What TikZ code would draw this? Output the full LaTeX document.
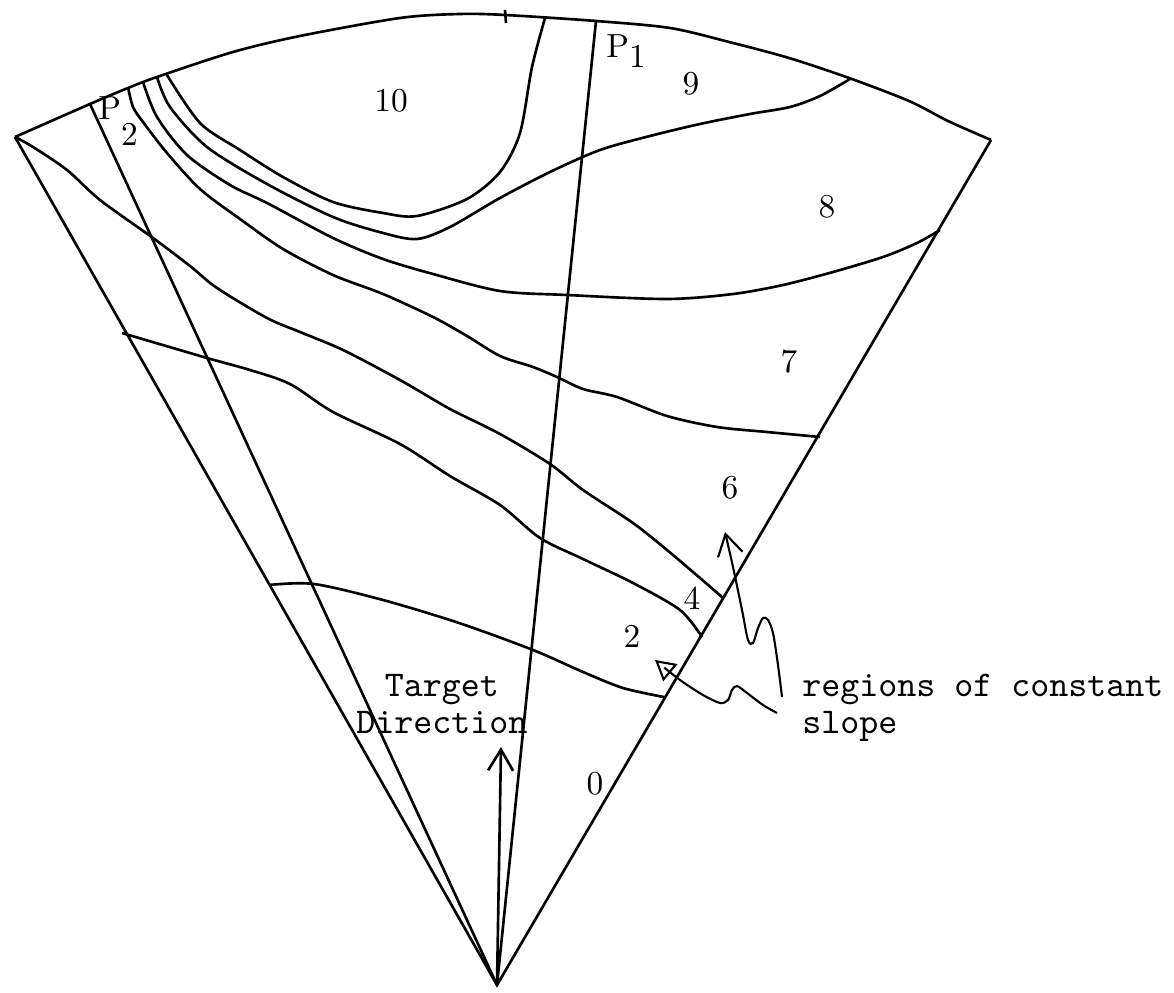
\documentclass[tikz,border=0pt]{standalone}
\usepackage{fontspec}
\usetikzlibrary{arrows.meta}

\begin{document}
\begin{tikzpicture}[x=0.1mm,y=-0.1mm,line width=0.75pt,
    contour/.style={line width=0.75pt},
    digit/.style={font=\fontsize{9.5}{11}\selectfont, inner sep=0pt},
    typed/.style={font=\fontsize{10.3}{10.5}\selectfont\ttfamily, inner sep=0pt},
    pointer/.style={line width=0.6pt, -{Straight Barb[length=2.1mm,width=2.5mm]}},
    pointerb/.style={line width=0.6pt, -{Triangle[open,length=2mm,width=2.2mm]}}]
  \useasboundingbox (0,0) rectangle (1174,993);
  % fan
  \coordinate (O) at (497,985);
  \coordinate (L) at (15,137);
  \coordinate (R) at (991,140);
  \coordinate (P1top) at (596,21);
  \coordinate (P2top) at (90,104);
  \draw (L) -- (O) -- (R);
  \draw (P2top) -- (O);
  \draw (P1top) -- (O);
  \draw plot[smooth] coordinates {(L) (90,104) (128,88) (157,77) (233,52)
    (300,36) (400,18) (460,14) (505,15) (596,21) (670,28) (729,42) (789,58)
    (849,78) (909,101) (948,121) (R)};
  \draw (505,10) -- (506,23);
  % contours
  \draw[contour] plot[smooth] coordinates {(167,75) (200,123) (240,150)
    (283,177) (333,202) (383,213) (417,216) (467,199) (500,172) (520,133)
    (532,67) (545,18)};
  \draw[contour] plot[smooth] coordinates {(157,77) (170,107) (207,147)
    (267,184) (333,217) (383,233) (417,239) (450,227) (500,198) (550,172)
    (600,150) (650,136) (700,124) (750,114) (790,107) (820,96) (850,79)};
  \draw[contour] plot[smooth] coordinates {(143,82) (157,117) (187,155)
    (230,185) (267,203) (333,238) (383,259) (433,274) (500,291) (567,295)
    (667,299) (733,294) (783,285) (833,272) (883,257) (917,243) (940,230)};
  \draw[contour] plot[smooth] coordinates {(128,87) (133,107) (143,122)
    (167,153) (200,189) (240,219) (283,249) (333,275) (383,294) (433,317)
    (467,336) (500,356) (533,367) (557,377) (583,389) (617,397) (667,416)
    (717,427) (767,432) (820,437)};
  \draw[contour] plot[smooth] coordinates {(L) (33,147) (67,170) (100,200)
    (153,238) (190,266) (217,288) (267,318) (300,332) (343,350) (400,380)
    (450,409) (500,434) (550,464) (583,490) (633,523) (667,550) (700,578)
    (723,598)};
  \draw[contour] plot[smooth] coordinates {(122,333) (207,358) (250,370)
    (290,384) (333,412) (400,444) (450,476) (500,505) (540,538) (583,559)
    (633,583) (680,610) (702,637)};
  \draw[contour] plot[smooth] coordinates {(269,585) (314,584) (383,600)
    (459,623) (533,650) (583,672) (623,688) (664,697)};
  % target direction
  \coordinate (tgt) at (501,747);
  \draw[pointer, line width=0.75pt] (O) -- (tgt);
  % labels
  \node[digit] (n10) at (391,101) {10};
  \node[digit] (n9) at (691,84) {9};
  \node[digit] (n8) at (827,207) {8};
  \node[digit] (n7) at (789,362) {7};
  \node[digit] (n6) at (730,488) {6};
  \node[digit] (n4) at (692,598) {4};
  \node[digit] (n2) at (632,636) {2};
  \node[digit] (n0) at (595,784) {0};
  \node[digit, anchor=base west] (p1) at (605,58) {P\raisebox{-1mm}{1}};
  \node[digit, anchor=base west] (p2) at (97,120) {P\raisebox{-2.6mm}{2}};
  \node[typed, align=center, anchor=north west] (target) at (355,673) {Target\\Direction};
  \node[typed, align=left, anchor=north west] (note) at (801,673) {regions of constant\\slope};
  % pointers
  \draw[pointer] plot[smooth] coordinates {(782,697) (778,665) (773,633)
    (768,620) (763,618) (758,628) (753,643) (748,640) (742,610) (733,567)
    (725,532)};
  \draw[pointerb] plot[smooth] coordinates {(777,713) (763,705) (747,693)
    (737,686) (732,690) (728,700) (720,703) (703,695) (680,680) (655,660)};
\end{tikzpicture}
\end{document}
